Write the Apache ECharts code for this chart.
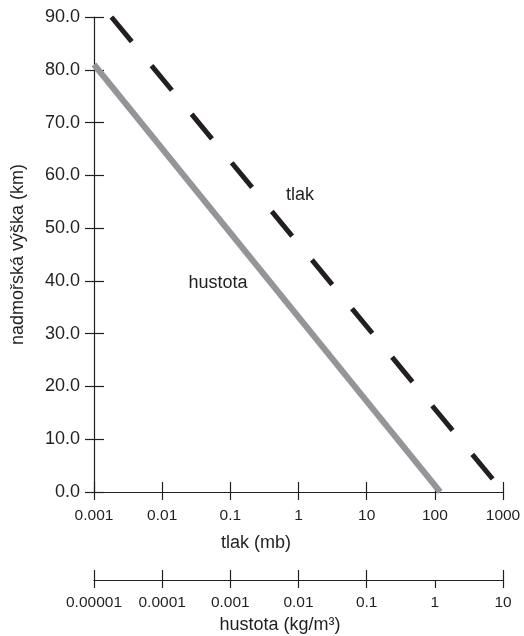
<!DOCTYPE html>
<html>
<head>
<meta charset="utf-8">
<script src="https://cdn.jsdelivr.net/npm/echarts@6/dist/echarts.min.js"></script>
<style>
  html, body { margin: 0; padding: 0; background: #fff; }
  #chart { width: 524px; height: 636px; }
</style>
</head>
<body>
<div id="chart"></div>
<script>
// altitude (km) axis
const altMin = 0;
const altMax = 90;
const altStep = 10;

// tick labels of the two log axes
const pressureTicks = ['0.001', '0.01', '0.1', '1', '10', '100', '1000'];
const densityTicks = ['0.00001', '0.0001', '0.001', '0.01', '0.1', '1', '10'];

// lines: [value, altitude]
const pressureLine = [[0.0018, 90], [1013, 0]];   // tlak (mb)
const densityLine = [[0.00001, 81], [1.2, 0]];    // hustota (kg/m3)

const ink = '#231f20';
const font = "'Liberation Sans', Arial, sans-serif";

const chart = echarts.init(document.getElementById('chart'));

const plot = { left: 94, right: 21, top: 17, bottom: 144, containLabel: false, outerBoundsMode: 'none' };

const logAxis = (min, max, extra) => Object.assign({
  type: 'log',
  logBase: 10,
  min: min,
  max: max,
  position: 'bottom',
  splitLine: { show: false },
  axisLine: { show: true, onZero: false, lineStyle: { color: ink, width: 1.2 } },
  axisTick: { show: true, length: 8, lineStyle: { color: ink, width: 1.2 } },
  axisLabel: { show: false }
}, extra);

const altAxis = (extra) => Object.assign({
  type: 'value',
  position: 'left',
  min: altMin,
  max: altMax,
  interval: altStep,
  splitLine: { show: false },
  axisLine: { show: true, onZero: false, lineStyle: { color: ink, width: 1.2 } },
  axisTick: { show: true, length: 9, lineStyle: { color: ink, width: 1.2 } },
  axisLabel: { show: false }
}, extra);

const insideTick = { show: true, inside: true, length: 10, lineStyle: { color: ink, width: 1.2 } };

const tickLabel = (labels, minExp) => (v) => labels[Math.round(Math.log10(v)) - minExp];

chart.setOption({
  animation: false,
  grid: [plot, Object.assign({}, plot)],
  xAxis: [
    logAxis(0.001, 1000, {
      gridIndex: 0,
      axisLabel: {
        show: true, margin: 16, color: ink, fontSize: 15.5, fontFamily: font,
        formatter: tickLabel(pressureTicks, -3)
      }
    }),
    logAxis(0.00001, 10, {
      gridIndex: 0,
      offset: 88,
      axisLabel: {
        show: true, margin: 15, color: ink, fontSize: 15.5, fontFamily: font,
        formatter: tickLabel(densityTicks, -5)
      }
    }),
    logAxis(0.00001, 10, {
      gridIndex: 0,
      offset: 88,
      axisLine: { show: false, onZero: false },
      axisTick: Object.assign({ customValues: [0.00001, 0.0001, 0.001, 0.01, 0.1, 10] }, insideTick)
    }),
    logAxis(0.001, 1000, {
      gridIndex: 1,
      axisLine: { show: false, onZero: false },
      axisTick: insideTick
    })
  ],
  yAxis: [
    altAxis({
      gridIndex: 0,
      name: 'nadmořská výška (km)',
      nameLocation: 'middle',
      nameGap: 67,
      nameRotate: 90,
      nameTextStyle: { color: ink, fontSize: 18, fontFamily: font },
      axisLabel: {
        show: true, margin: 14, color: ink, fontSize: 18, fontFamily: font,
        formatter: (v) => v.toFixed(1)
      }
    }),
    altAxis({
      gridIndex: 1,
      axisLine: { show: false, onZero: false },
      axisTick: insideTick
    })
  ],
  series: [
    {
      name: 'tlak',
      type: 'line',
      xAxisIndex: 0,
      yAxisIndex: 0,
      data: pressureLine,
      showSymbol: false,
      lineStyle: { color: ink, width: 5, type: [32, 31], cap: 'butt' }
    },
    {
      name: 'hustota',
      type: 'line',
      xAxisIndex: 1,
      yAxisIndex: 0,
      data: densityLine,
      showSymbol: false,
      lineStyle: { color: '#939598', width: 6, cap: 'butt' }
    }
  ],
  graphic: [
    { type: 'text', x: 300, y: 195, style: { text: 'tlak', fill: ink, font: '18px ' + font, align: 'center', verticalAlign: 'middle' } },
    { type: 'text', x: 218, y: 283, style: { text: 'hustota', fill: ink, font: '18px ' + font, align: 'center', verticalAlign: 'middle' } },
    { type: 'text', x: 256, y: 543, style: { text: 'tlak (mb)', fill: ink, font: '18px ' + font, align: 'center', verticalAlign: 'middle' } },
    { type: 'text', x: 280, y: 625, style: { text: 'hustota (kg/m³)', fill: ink, font: '18px ' + font, align: 'center', verticalAlign: 'middle' } }
  ]
});
</script>
</body>
</html>
